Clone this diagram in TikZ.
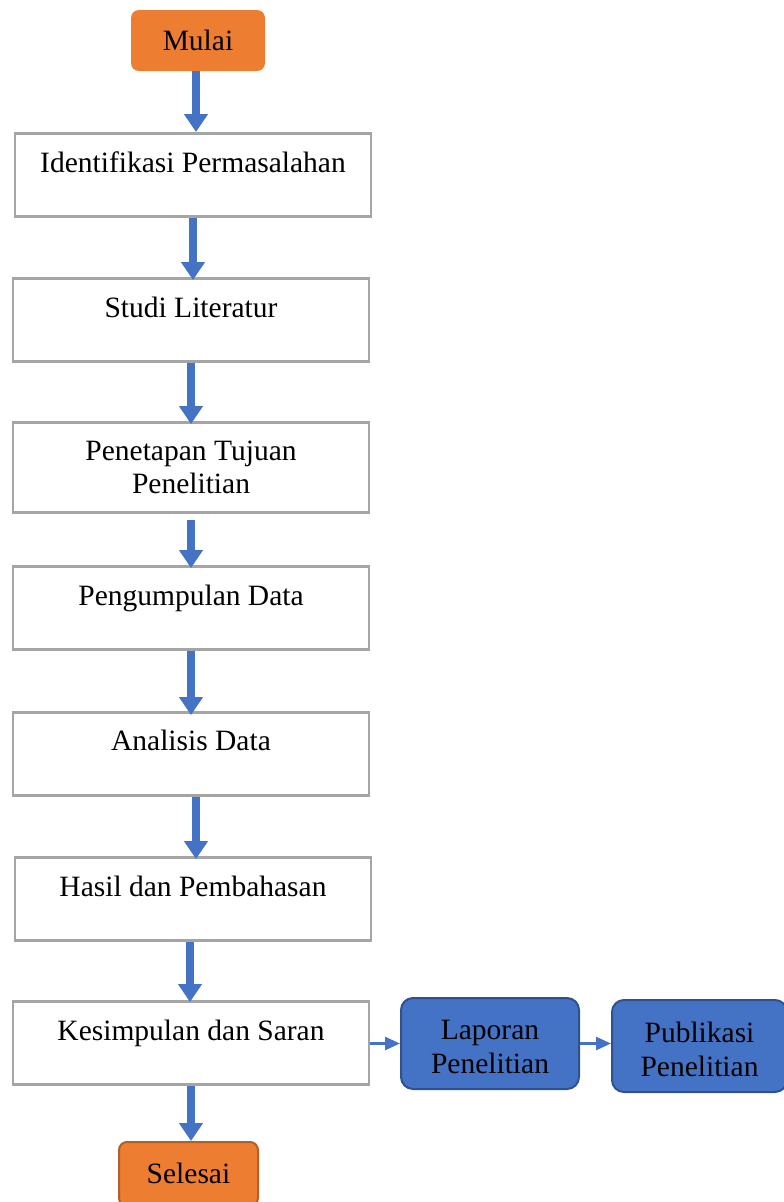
\documentclass[tikz,border=0pt]{standalone}
\usepackage{fontspec}
\setmainfont{Liberation Serif}
\usetikzlibrary{arrows.meta}
\definecolor{orng}{HTML}{ED7D31}
\definecolor{orngdark}{HTML}{B45F26}
\definecolor{blu}{HTML}{4472C4}
\definecolor{bludark}{HTML}{2F528F}
\definecolor{grayb}{HTML}{A5A5A5}
\begin{document}
\begin{tikzpicture}[x=1pt,y=-1pt,
  every node/.style={font=\fontsize{29.5}{34}\selectfont, align=center},
  wbox/.style={draw=grayb, line width=2.5pt, fill=white, minimum width=356pt, minimum height=83pt, anchor=north, inner sep=0pt},
  termbox/.style={fill=orng, rounded corners=8pt, inner sep=0pt},
  bbox/.style={fill=blu, draw=bludark, line width=2pt, rounded corners=12pt, inner sep=0pt},
  txt/.style={anchor=base, inner sep=0pt},
  bigarrow/.style={draw=blu, line width=8pt, -{Triangle[width=23pt,length=18pt]}},
  thinarrow/.style={draw=blu, line width=2.5pt, -{Triangle[width=13pt,length=15pt]}}
]
\useasboundingbox (0,0) rectangle (784,1202);
\clip (0,0) rectangle (784,1202);
% terminals
\node[termbox, minimum width=134pt, minimum height=61pt] (mulai) at (198,40.5) {Mulai};
\node[termbox, draw=orngdark, line width=2pt, minimum width=139pt, minimum height=64pt, anchor=north] (selesai) at (188.5,1141) {};
\node[txt] (tsel) at (188.5,1183) {Selesai};
% process boxes
\node[wbox] (b1) at (193,132) {};
\node[txt] (t1) at (193,172) {Identifikasi Permasalahan};
\node[wbox] (b2) at (191,277) {};
\node[txt] (t2) at (191,317) {Studi Literatur};
\node[wbox, minimum height=90pt] (b3) at (191,421) {};
\node[txt] (t3) at (191,460) {Penetapan Tujuan};
\node[txt] (t3b) at (191,493) {Penelitian};
\node[wbox] (b4) at (191,565) {};
\node[txt] (t4) at (191,605) {Pengumpulan Data};
\node[wbox] (b5) at (191,711) {};
\node[txt] (t5) at (191,750) {Analisis Data};
\node[wbox] (b6) at (193,856) {};
\node[txt] (t6) at (193,896) {Hasil dan Pembahasan};
\node[wbox] (b7) at (191,1000) {};
\node[txt] (t7) at (191,1040) {Kesimpulan dan Saran};
% blue boxes
\node[bbox, minimum width=178pt, minimum height=91pt] (lap) at (490,1043.5) {};
\node[inner sep=0pt] (tlap) at ([yshift=-3pt]lap.center) {Laporan\\Penelitian};
\node[bbox, minimum width=175pt, minimum height=92pt, anchor=west] (pub) at (611,1046) {};
\node[inner sep=0pt] (tpub) at ([yshift=-3pt]pub.center) {Publikasi\\Penelitian};
% arrows
\draw[bigarrow] ([xshift=-2pt]mulai.south) -- ([xshift=3pt]b1.north);
\draw[bigarrow] (b1.south) -- ([yshift=-3pt]b2.north -| b1.south);
\draw[bigarrow] (b2.south) -- ([yshift=-3pt]b3.north);
\draw[bigarrow] ([yshift=-6pt]b3.south) -- ([yshift=-3pt]b4.north);
\draw[bigarrow] (b4.south) -- ([yshift=-4pt]b5.north);
\draw[bigarrow] ([xshift=5pt]b5.south) -- ([xshift=5pt,yshift=-3pt]b6.north -| b5.south);
\draw[bigarrow] ([xshift=-1pt]b6.south -| b7.north) -- ([xshift=-1pt,yshift=-2pt]b7.north);
\draw[bigarrow] (b7.south) -- (b7.south |- selesai.north);
\draw[thinarrow] (lap.west -| b7.east) -- (lap.west);
\draw[thinarrow] (lap.east) -- (lap.east -| pub.west);
\end{tikzpicture}
\end{document}
